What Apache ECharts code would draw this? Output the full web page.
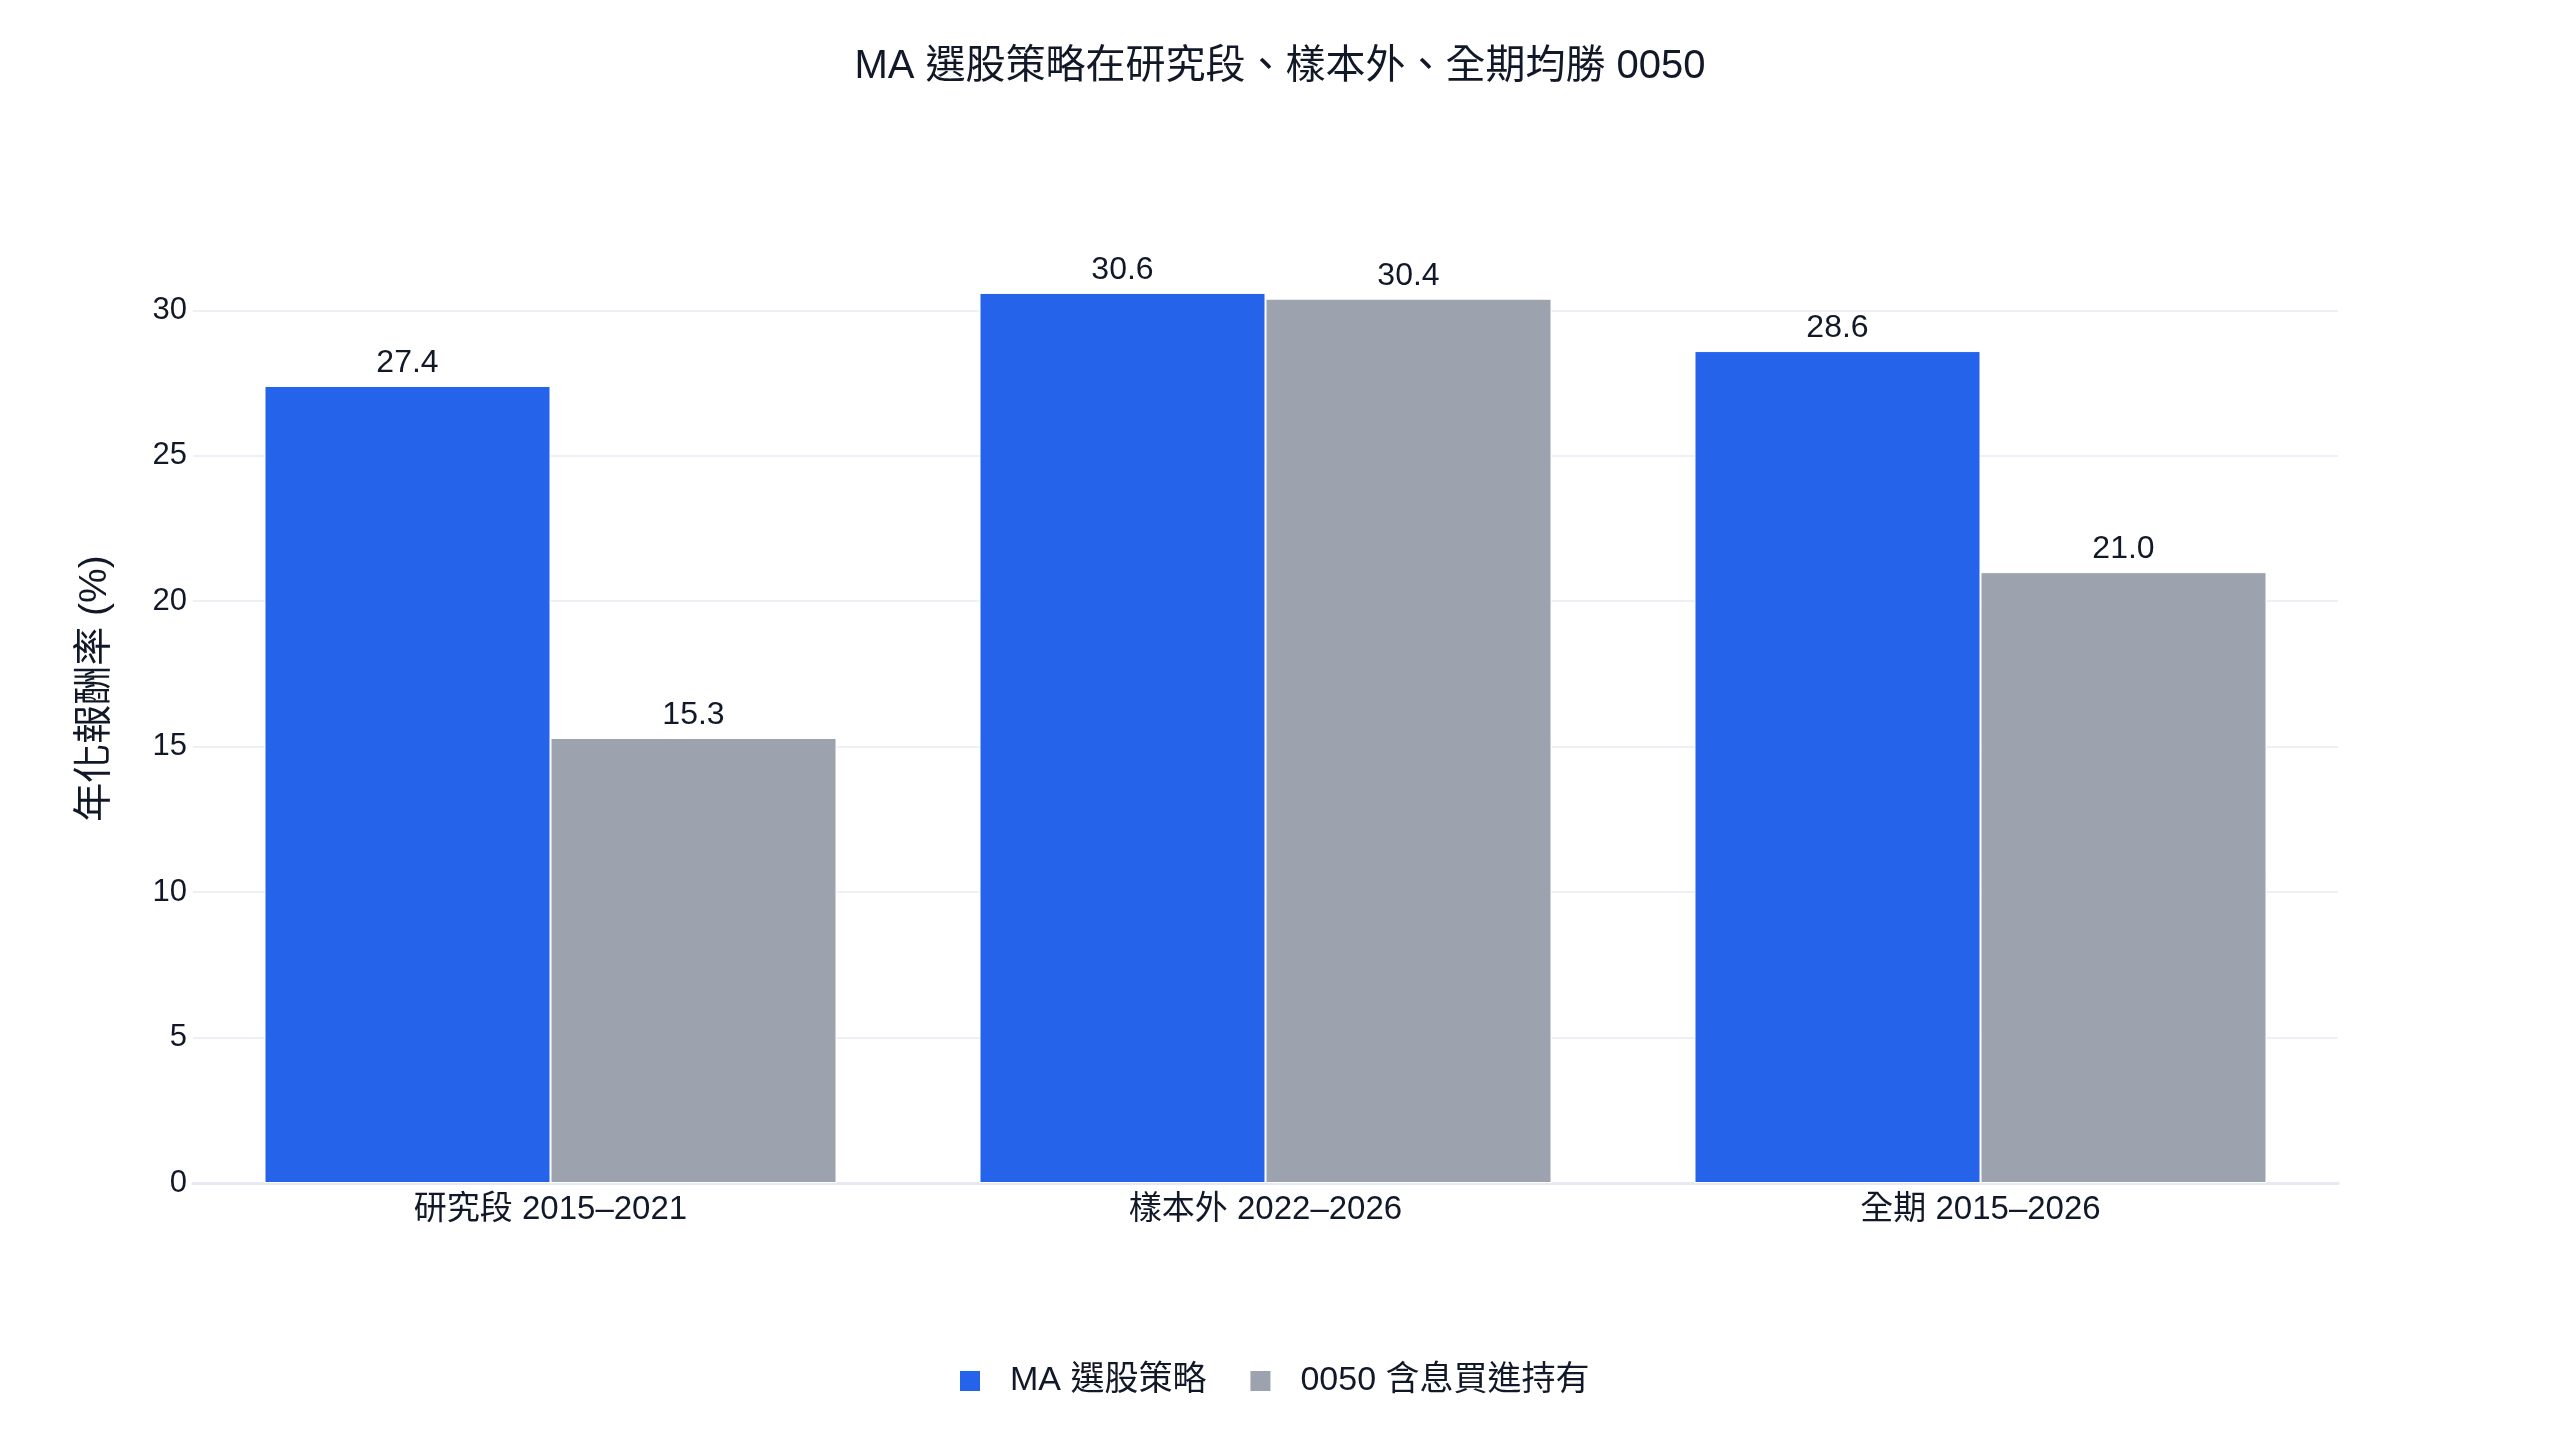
<!DOCTYPE html>
<html>
<head>
<meta charset="utf-8">
<script src="https://cdn.jsdelivr.net/npm/echarts@6/dist/echarts.min.js"></script>
<style>
  html, body { margin: 0; padding: 0; background: #fff; }
  #main { width: 2560px; height: 1440px; }
</style>
</head>
<body>
<div id="main"></div>
<script>
var categories = ['研究段 2015–2021', '樣本外 2022–2026', '全期 2015–2026'];
var maStrategy = [27.4, 30.6, 28.6];
var buyHold0050 = [15.3, 30.4, 21.0];
var seriesNames = ['MA 選股策略', '0050 含息買進持有'];

var fontFamily = '"Liberation Sans", Arial, "Noto Sans CJK TC", sans-serif';
var textColor = '#111827';

var dom = document.getElementById('main');
var myChart = echarts.init(dom, null, { renderer: 'canvas' });

var labelStyle = {
    show: true,
    position: 'top',
    distance: 7,
    color: textColor,
    fontSize: 32,
    fontFamily: fontFamily,
    formatter: function (p) { return p.value.toFixed(1); }
};

var option = {
    backgroundColor: '#ffffff',
    textStyle: { fontFamily: fontFamily },
    title: {
        text: 'MA 選股策略在研究段、樣本外、全期均勝 0050',
        left: 'center',
        top: 47,
        padding: 0,
        textStyle: { color: textColor, fontSize: 40, fontWeight: 'normal', fontFamily: fontFamily }
    },
    legend: {
        bottom: 42,
        left: 958,
        padding: 0,
        icon: 'rect',
        itemWidth: 22,
        itemHeight: 22,
        itemGap: 42,
        textStyle: { color: textColor, fontSize: 34, fontFamily: fontFamily, padding: [0, 0, 0, 24] },
        data: seriesNames
    },
    grid: {
        left: 193,
        right: 222,
        top: 194,
        bottom: 257
    },
    xAxis: {
        type: 'category',
        data: categories,
        axisTick: { show: false },
        axisLine: { show: true, lineStyle: { color: '#e6e9f1', width: 3 } },
        axisLabel: { color: textColor, fontSize: 33, margin: 10, fontFamily: fontFamily }
    },
    yAxis: {
        type: 'value',
        min: 0,
        max: 34,
        interval: 5,
        name: '年化報酬率 (%)',
        nameLocation: 'middle',
        nameGap: 78,
        nameTextStyle: { color: textColor, fontSize: 39, fontFamily: fontFamily },
        axisLine: { show: false },
        axisTick: { show: false },
        axisLabel: {
            color: textColor,
            fontSize: 31,
            margin: 6,
            showMaxLabel: false,
            fontFamily: fontFamily
        },
        splitLine: {
            show: true,
            showMaxLine: false,
            lineStyle: { color: '#eef0f6', width: 2 }
        }
    },
    series: [
        {
            name: seriesNames[0],
            type: 'bar',
            data: maStrategy,
            barGap: '0%',
            barCategoryGap: '20%',
            itemStyle: { color: '#2563eb', borderColor: '#ffffff', borderWidth: 1 },
            label: labelStyle
        },
        {
            name: seriesNames[1],
            type: 'bar',
            data: buyHold0050,
            itemStyle: { color: '#9ca3af', borderColor: '#ffffff', borderWidth: 1 },
            label: labelStyle
        }
    ]
};

if (option && typeof option === 'object') {
    myChart.setOption(option);
}

window.addEventListener('resize', myChart.resize);
</script>
</body>
</html>
